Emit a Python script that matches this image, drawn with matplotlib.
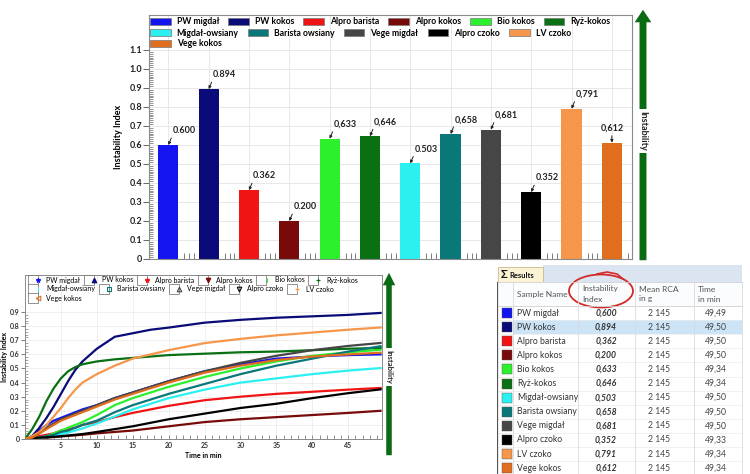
import matplotlib
matplotlib.use('Agg')
import matplotlib.pyplot as plt
import numpy as np
from matplotlib.patches import Patch, Rectangle, Ellipse, FancyArrowPatch
from matplotlib.lines import Line2D
from matplotlib.legend import Legend
from matplotlib.legend_handler import HandlerTuple
from matplotlib.ticker import FixedLocator, MultipleLocator

plt.rcParams['font.family'] = ['Lato', 'DejaVu Sans']

# ---------------- data ----------------
samples = ['PW migdał', 'PW kokos', 'Alpro barista', 'Alpro kokos', 'Bio kokos', 'Ryż-kokos',
           'Migdał-owsiany', 'Barista owsiany', 'Vege migdał', 'Alpro czoko', 'LV czoko', 'Vege kokos']
instability = [0.600, 0.894, 0.362, 0.200, 0.633, 0.646, 0.503, 0.658, 0.681, 0.352, 0.791, 0.612]
bar_labels = ['0.600', '0.894', '0.362', '0.200', '0,633', '0,646', '0.503', '0,658', '0,681',
              '0.352', '0,791', '0,612']
table_instab = ['0,600', '0,894', '0,362', '0,200', '0,633', '0,646', '0,503', '0,658', '0,681',
                '0,352', '0,791', '0,612']
mean_rca = ['2 145'] * 12
time_min = ['49,49', '49,50', '49,50', '49,50', '49,34', '49,34', '49,50', '49,50', '49,50',
            '49,33', '49,34', '49,34']
selected_sample = 'PW kokos'

colors = ['#1414f0', '#0a0a78', '#f01414', '#780a0a', '#2cf02c', '#0a7014',
          '#2cf0f0', '#0a7878', '#464646', '#000000', '#f5964b', '#e06e1e']
line_markers = ['*', '^', '*', 'v', '|', '+', '|', 's', '^', 'v', '+', '<']
marker_filled = [True, True, True, True, True, True, True, False, False, False, True, False]

# time curves (instability index vs time in min)
t = [0, 1, 2, 3, 4, 5, 6, 7, 8, 10, 12.5, 15, 17.5, 20, 25, 30, 35, 40, 45, 49.5]
curve_pw_migdal = [0, 0.02, 0.06, 0.10, 0.13, 0.15, 0.17, 0.19, 0.21, 0.24, 0.29, 0.33, 0.37, 0.41, 0.48, 0.53, 0.57, 0.585, 0.595, 0.600]
curve_pw_kokos = [0, 0.02, 0.08, 0.15, 0.23, 0.32, 0.41, 0.49, 0.55, 0.64, 0.725, 0.75, 0.775, 0.79, 0.825, 0.845, 0.86, 0.87, 0.88, 0.894]
curve_alpro_barista = [0, 0.01, 0.02, 0.03, 0.04, 0.06, 0.07, 0.08, 0.10, 0.12, 0.155, 0.185, 0.21, 0.235, 0.275, 0.30, 0.32, 0.335, 0.35, 0.362]
curve_alpro_kokos = [0, 0.004, 0.008, 0.01, 0.014, 0.018, 0.022, 0.026, 0.03, 0.04, 0.05, 0.06, 0.075, 0.09, 0.12, 0.14, 0.155, 0.17, 0.185, 0.200]
curve_bio_kokos = [0, 0.005, 0.01, 0.02, 0.04, 0.06, 0.08, 0.10, 0.12, 0.17, 0.24, 0.29, 0.33, 0.37, 0.44, 0.50, 0.55, 0.59, 0.615, 0.633]
curve_ryz_kokos = [0, 0.07, 0.16, 0.27, 0.36, 0.43, 0.48, 0.51, 0.53, 0.55, 0.565, 0.575, 0.585, 0.595, 0.605, 0.615, 0.62, 0.63, 0.64, 0.646]
curve_migdal_owsiany = [0, 0.003, 0.008, 0.015, 0.025, 0.035, 0.045, 0.06, 0.075, 0.11, 0.16, 0.21, 0.25, 0.29, 0.35, 0.40, 0.43, 0.46, 0.485, 0.503]
curve_barista_owsiany = [0, 0.005, 0.01, 0.02, 0.03, 0.05, 0.06, 0.08, 0.10, 0.13, 0.19, 0.24, 0.28, 0.32, 0.39, 0.46, 0.52, 0.57, 0.62, 0.658]
curve_vege_migdal = [0, 0.01, 0.04, 0.08, 0.11, 0.14, 0.16, 0.18, 0.20, 0.24, 0.29, 0.33, 0.37, 0.41, 0.48, 0.54, 0.59, 0.63, 0.66, 0.681]
curve_alpro_czoko = [0, 0.005, 0.01, 0.012, 0.016, 0.02, 0.025, 0.03, 0.035, 0.05, 0.07, 0.09, 0.115, 0.14, 0.18, 0.22, 0.25, 0.29, 0.325, 0.352]
curve_lv_czoko = [0, 0.02, 0.05, 0.10, 0.16, 0.22, 0.29, 0.35, 0.40, 0.46, 0.52, 0.57, 0.60, 0.63, 0.68, 0.71, 0.735, 0.755, 0.775, 0.791]
curve_vege_kokos = [0, 0.01, 0.04, 0.07, 0.10, 0.13, 0.15, 0.17, 0.19, 0.23, 0.28, 0.32, 0.36, 0.40, 0.47, 0.52, 0.56, 0.585, 0.60, 0.612]
curves = [curve_pw_migdal, curve_pw_kokos, curve_alpro_barista, curve_alpro_kokos, curve_bio_kokos,
          curve_ryz_kokos, curve_migdal_owsiany, curve_barista_owsiany, curve_vege_migdal,
          curve_alpro_czoko, curve_lv_czoko, curve_vege_kokos]

# ---------------- figure ----------------
W, H = 750, 474
fig = plt.figure(figsize=(W / 100, H / 100), dpi=100)
fig.patch.set_facecolor('white')


def rect(l, t_, r, b):
    return [l / W, 1 - b / H, (r - l) / W, (b - t_) / H]


def fpt(x, y):
    return (x / W, 1 - y / H)


GREEN = '#0b6b12'


def green_arrow(x, ybot, ytop, ytext, fs, hw, tw):
    arr = FancyArrowPatch(fpt(x, ybot), fpt(x, ytop), transform=fig.transFigure,
                          arrowstyle=f'simple,head_length=0.9,head_width={hw},tail_width={tw}',
                          mutation_scale=10, color=GREEN, lw=0)
    fig.patches.append(arr)
    fig.text(*fpt(x, ytext), 'Instability', rotation=270, ha='center', va='center',
             fontsize=fs, fontweight='bold', color='#222222',
             bbox=dict(facecolor='white', edgecolor='none', pad=1.5))


# ---------------- top bar chart ----------------
ax1 = fig.add_axes(rect(149, 15, 632, 259))
x = np.arange(len(samples))
ax1.bar(x, instability, width=0.5, color=colors, zorder=2)
ax1.set_xlim(-0.48, len(samples) - 0.5)
ax1.set_ylim(0, 1.284)
yt = np.round(np.arange(0, 1.101, 0.1), 1)
ax1.set_yticks(yt)
ax1.set_yticklabels(['0' if v == 0 else f'{v:.1f}' for v in yt], fontsize=6.5,
                    fontweight='bold', color='#222222')
ax1.yaxis.set_minor_locator(FixedLocator(np.arange(0, 1.1001, 0.01)))
ax1.tick_params(axis='y', which='major', direction='out', length=4, width=0.7, color='#666666', pad=1)
ax1.tick_params(axis='y', which='minor', direction='in', length=3, width=0.5, color='#666666')
ax1.set_xticks(x)
ax1.set_xticklabels([])
ax1.tick_params(axis='x', which='major', length=0)
ax1.xaxis.set_minor_locator(FixedLocator(np.concatenate([x + 0.4, x + 0.52, x + 0.64])[:-1]))
ax1.tick_params(axis='x', which='minor', direction='in', length=4, width=0.6, color='#666666')
ax1.grid(True, which='major', color='#e4e4e4', lw=0.6, zorder=0)
ax1.set_axisbelow(True)
for s in ax1.spines.values():
    s.set_color('#8a8a8a')
    s.set_linewidth(0.8)
ax1.set_ylabel('Instability Index', fontsize=6.5, fontweight='bold')
ax1.yaxis.set_label_coords(-0.054, 0.5)

for i, (v, lab) in enumerate(zip(instability, bar_labels)):
    last = i == len(instability) - 1
    ax1.annotate(lab, xy=(i, v), xytext=(0 if last else 3, 7), textcoords='offset points',
                 ha='center' if last else 'left', va='bottom', fontsize=6.5, fontweight='bold',
                 color='#222222', zorder=4,
                 arrowprops=dict(arrowstyle='-|>', mutation_scale=4, lw=0.7, color='#222222',
                                 relpos=(0.5, 0) if last else (0, 0), shrinkA=0, shrinkB=0))

# legend rows (flow layout)
rows = [(0, 6, 22), (6, 11, 33), (11, 12, 44)]
for a, b, yrow in rows:
    hs = [Patch(facecolor=colors[k], edgecolor='#777777', lw=0.5) for k in range(a, b)]
    leg = Legend(ax1, hs, samples[a:b], loc='center left',
                 bbox_to_anchor=(0.002, 1 - (yrow - 15) / 244), ncol=b - a, frameon=False,
                 prop=dict(size=6.2, weight='bold'), handlelength=2.4, handleheight=0.95,
                 handletextpad=0.7, columnspacing=1.05, borderpad=0, borderaxespad=0)
    ax1.add_artist(leg)

green_arrow(643, 263, 7, 131, 6.5, 1.2, 0.5)

# ---------------- bottom-left line chart ----------------
ax2 = fig.add_axes(rect(25, 275, 382, 439))
for k in range(len(samples)):
    ax2.plot(t, curves[k], color=colors[k], lw=1.6, zorder=3)
ax2.set_xlim(0, 49.7)
ax2.set_ylim(0, 1.163)
ax2.set_xticks(np.arange(5, 46, 5))
ax2.set_xticklabels([str(v) for v in range(5, 46, 5)], fontsize=5, fontweight='bold', color='#333333')
ax2.xaxis.set_minor_locator(MultipleLocator(1))
yt2 = np.round(np.arange(0, 0.91, 0.1), 1)
ax2.set_yticks(yt2)
ax2.set_yticklabels(['0' if v == 0 else f'{v:.1f}' for v in yt2], fontsize=5, fontweight='bold', color='#333333')
ax2.yaxis.set_minor_locator(FixedLocator(np.arange(0, 0.9001, 0.02)))
ax2.tick_params(axis='x', which='both', direction='in', length=3, width=0.5, color='#666666', pad=2)
ax2.tick_params(axis='y', which='major', direction='out', length=3, width=0.6, color='#666666', pad=1)
ax2.tick_params(axis='y', which='minor', direction='in', length=2.5, width=0.4, color='#666666')
ax2.grid(True, which='major', color='#ececec', lw=0.6, zorder=0)
ax2.set_axisbelow(True)
for s in ax2.spines.values():
    s.set_color('#8a8a8a')
    s.set_linewidth(0.7)
ax2.set_xlabel('Time in min', fontsize=5, fontweight='bold', labelpad=2)
ax2.set_ylabel('Instability Index', fontsize=5, fontweight='bold')
ax2.yaxis.set_label_coords(-0.048, 0.5)

rows2 = [(0, 6, 280), (6, 11, 289), (11, 12, 298)]
for a, b, yrow in rows2:
    hs = []
    for k in range(a, b):
        box = Line2D([], [], marker='s', ms=6.5, mfc='white', mec='#666666', mew=0.5, ls='none')
        mk = Line2D([], [], marker=line_markers[k], ms=3.3, ls='none', color=colors[k],
                    mfc=colors[k] if marker_filled[k] else 'none', mew=0.8)
        hs.append((box, mk))
    leg = Legend(ax2, hs, samples[a:b], loc='center left',
                 bbox_to_anchor=(0.015, 1 - (yrow - 275) / 164), ncol=b - a, frameon=False,
                 prop=dict(size=5), handlelength=1.5, handletextpad=0.8, columnspacing=0.85,
                 borderpad=0, borderaxespad=0, handler_map={tuple: HandlerTuple(ndivide=None)})
    ax2.add_artist(leg)

green_arrow(389, 458, 270, 367, 5.5, 0.9, 0.4)

# ---------------- bottom-right results table ----------------
ax3 = fig.add_axes(rect(497, 262, 750, 474))
ax3.set_xlim(0, 253)
ax3.set_ylim(212, 0)
ax3.axis('off')

row_top0 = 44.0
row_h = 14.1
col_lines = [16, 81, 138, 197, 245]

ax3.add_patch(Rectangle((46, 3), 199, 17, facecolor='#dbe5f1', edgecolor='none'))
ax3.add_patch(Rectangle((1, 5), 45, 15, facecolor='#fbf3d5', edgecolor='#c9b98c', lw=0.6))
ax3.text(4, 13, 'Σ', fontsize=8, fontweight='bold', ha='left', va='center', color='#111111')
ax3.text(12, 13, 'Results', fontsize=5.5, fontweight='bold', ha='left', va='center', color='#111111')
ax3.add_patch(Rectangle((1, 20), 244, row_top0 - 20, facecolor='#fbfcfd', edgecolor='none'))
ax3.plot([1, 245], [20, 20], color='#d0d0d0', lw=0.6)
ax3.plot([1, 245], [row_top0, row_top0], color='#d0d0d0', lw=0.6)

n = len(samples)
for i in range(n):
    top = row_top0 + i * row_h
    cy = top + row_h / 2
    if samples[i] == selected_sample:
        ax3.add_patch(Rectangle((16, top), 229, row_h, facecolor='#cde4f7', edgecolor='none'))
    ax3.plot([1, 245], [top + row_h, top + row_h], color='#ececec', lw=0.5)
    ax3.add_patch(Rectangle((5, cy - 5), 10, 10, facecolor=colors[i], edgecolor='#555555', lw=0.3))
    ax3.text(20, cy, samples[i], fontsize=6.2, ha='left', va='center', color='#333333')
    ax3.text(120, cy, table_instab[i], fontsize=6.2, ha='right', va='center', color='#333333',
             fontweight='bold', fontstyle='italic')
    ax3.text(173, cy, mean_rca[i], fontsize=6.2, ha='right', va='center', color='#444444')
    ax3.text(230, cy, time_min[i], fontsize=6.2, ha='right', va='center', color='#444444')

for cx in col_lines:
    ax3.plot([cx, cx], [20, 212], color='#dadada', lw=0.6)
ax3.plot([0.5, 0.5], [20, 212], color='#555555', lw=0.9)

ax3.text(20, 32, 'Sample Name', fontsize=6, ha='left', va='center', color='#555555')
ax3.text(85, 32, 'Instability\nIndex', fontsize=6, ha='left', va='center', color='#555555', linespacing=1.5)
ax3.text(142, 32, 'Mean RCA\nin g', fontsize=6, ha='left', va='center', color='#555555', linespacing=1.5)
ax3.text(201, 32, 'Time\nin min', fontsize=6, ha='left', va='center', color='#555555', linespacing=1.5)

ax3.add_patch(Ellipse((104, 29), 64, 33, fill=False, edgecolor='#d42a2a', lw=1.3))
ax3.plot([100, 110, 120, 126], [12, 10, 12, 17], color='#d42a2a', lw=1.2)

fig.savefig('out.png', dpi=100, facecolor='white')
